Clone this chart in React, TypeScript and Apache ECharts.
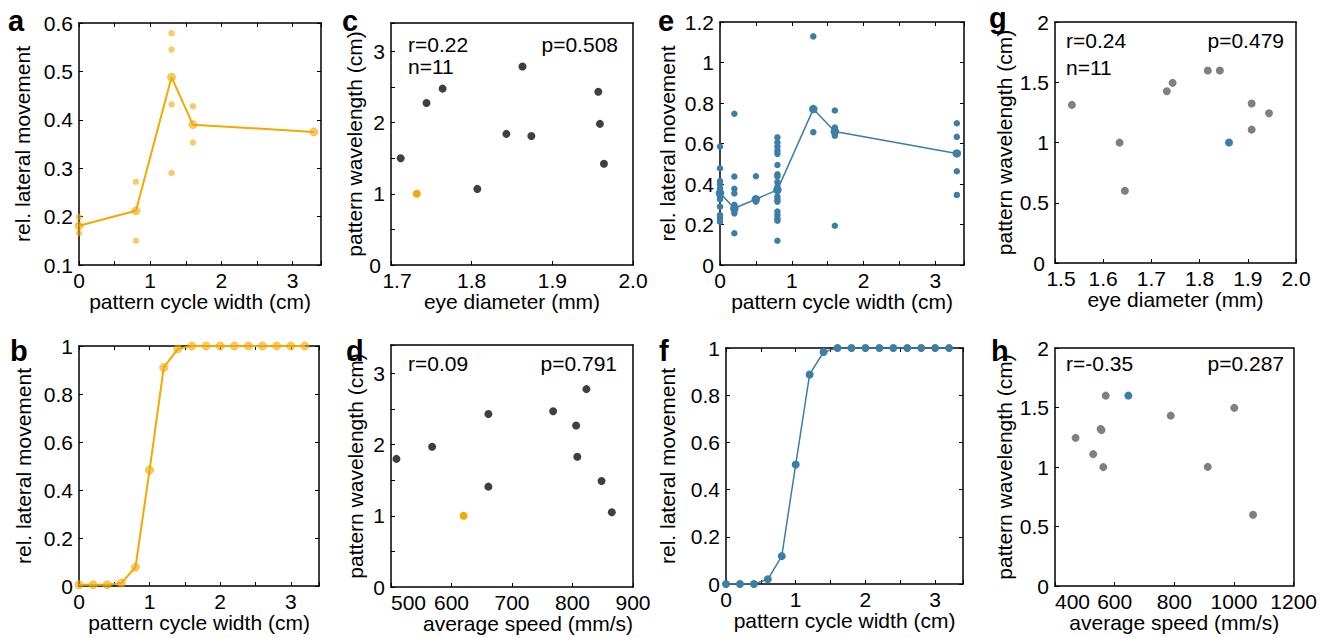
import React, { useEffect, useRef } from "react";
import * as echarts from "echarts";

// ---------- data ----------
// panel a (orange, individual + mean)
const aWidths = [0, 0.8, 1.3, 1.6, 3.3];
const aMeans = [0.181, 0.212, 0.488, 0.39, 0.375];
const aIndividual = [
  [0.199, 0.166],
  [0.272, 0.15],
  [0.579, 0.545, 0.432, 0.29],
  [0.428, 0.353],
  [],
];
// panel b
const bWidths = [0, 0.2, 0.4, 0.6, 0.8, 1.0, 1.2, 1.4, 1.6, 1.8, 2.0, 2.2, 2.4, 2.6, 2.8, 3.0, 3.2];
const bValues = [0.005, 0.005, 0.005, 0.012, 0.078, 0.483, 0.91, 0.988, 1, 1, 1, 1, 1, 1, 1, 1, 1];
// panel c
const cEyeDiameter = [1.712, 1.732, 1.744, 1.764, 1.807, 1.843, 1.863, 1.874, 1.957, 1.959, 1.964];
const cWavelength = [1.5, 1.0, 2.275, 2.478, 1.069, 1.842, 2.789, 1.813, 2.435, 1.983, 1.422];
const cHighlight = 1;
// panel d
const dSpeed = [509, 568, 620, 661, 661, 768, 806, 808, 823, 848, 865];
const dWavelength = [1.8, 1.97, 1.0, 2.43, 1.41, 2.47, 2.27, 1.83, 2.78, 1.49, 1.05];
const dHighlight = 2;
// panel e (blue, individual + mean)
const eWidths = [0, 0.2, 0.5, 0.8, 1.3, 1.6, 3.3];
const eMeans = [0.355, 0.28, 0.325, 0.371, 0.77, 0.659, 0.551];
const eIndividual = [
  [0.585, 0.478, 0.415, 0.399, 0.379, 0.363, 0.349, 0.338, 0.325, 0.288, 0.247, 0.231, 0.214],
  [0.747, 0.437, 0.376, 0.354, 0.297, 0.28, 0.269, 0.255, 0.157],
  [0.438, 0.326, 0.313],
  [0.63, 0.605, 0.585, 0.565, 0.549, 0.494, 0.448, 0.437, 0.41, 0.387, 0.366, 0.338, 0.325, 0.313, 0.264, 0.247, 0.231, 0.219, 0.12],
  [1.129, 0.77, 0.656],
  [0.763, 0.679, 0.668, 0.651, 0.638, 0.194],
  [0.7, 0.633, 0.551, 0.463, 0.346],
];
// panel f
const fWidths = [0, 0.2, 0.4, 0.6, 0.8, 1.0, 1.2, 1.4, 1.6, 1.8, 2.0, 2.2, 2.4, 2.6, 2.8, 3.0, 3.2];
const fValues = [0, 0, 0, 0.02, 0.118, 0.506, 0.888, 0.983, 1, 1, 1, 1, 1, 1, 1, 1, 1];
// panel g
const gEyeDiameter = [1.535, 1.634, 1.645, 1.732, 1.744, 1.817, 1.842, 1.861, 1.908, 1.908, 1.944];
const gWavelength = [1.312, 0.999, 0.599, 1.426, 1.495, 1.598, 1.598, 1.0, 1.323, 1.107, 1.243];
const gHighlight = 7;
// panel h
const hSpeed = [469, 528, 553, 556, 562, 570, 646, 788, 912, 1001, 1064];
const hWavelength = [1.245, 1.108, 1.32, 1.31, 0.999, 1.6, 1.6, 1.432, 1.001, 1.497, 0.599];
const hHighlight = 6;

// stats text
const cStats = { r: "r=0.22", n: "n=11", p: "p=0.508" };
const dStats = { r: "r=0.09", p: "p=0.791" };
const gStats = { r: "r=0.24", n: "n=11", p: "p=0.479" };
const hStats = { r: "r=-0.35", p: "p=0.287" };

// ---------- styles ----------
const FONT = "Liberation Sans, Arial, Helvetica, sans-serif";
const ORANGE = "#f2a900";
const ORANGE_T = "rgba(242,169,0,0.6)";
const BLUE = "#3c7ea5";
const DARK = "#3f3f3f";
const GREY = "#808080";
const FS = 21;

const grids = [
  { left: 79, top: 23, width: 242, height: 242 }, // a
  { left: 79, top: 346, width: 240, height: 240 }, // b
  { left: 391, top: 23, width: 242, height: 242 }, // c
  { left: 391, top: 345, width: 242, height: 242 }, // d
  { left: 720, top: 22, width: 244, height: 243 }, // e
  { left: 726, top: 348, width: 237, height: 236 }, // f
  { left: 1055, top: 22, width: 241, height: 241 }, // g
  { left: 1055, top: 348, width: 240, height: 238 }, // h
];

const intOnly = (v: number) => (Math.abs(v - Math.round(v)) < 1e-6 ? String(Math.round(v)) : "");
const oneDec = (v: number) => v.toFixed(1);
const trimmed = (v: number) => String(+v.toFixed(2));

type AxCfg = {
  xMin: number; xMax: number; xInt: number; xFmt: (v: number) => string;
  yMin: number; yMax: number; yInt: number; yFmt: (v: number) => string;
  xName: string; yName: string; xGap: number; yGap: number; mirror: boolean;
  alignMin?: boolean; xNamePad?: number[]; nudgeMins?: boolean;
};

const panelAxes: AxCfg[] = [
  { xMin: 0, xMax: 3.4, xInt: 0.5, xFmt: intOnly, yMin: 0.1, yMax: 0.6, yInt: 0.1, yFmt: oneDec, xName: "pattern cycle width (cm)", yName: "rel. lateral movement", xGap: 22, yGap: 46, mirror: true },
  { xMin: 0, xMax: 3.4, xInt: 0.5, xFmt: intOnly, yMin: 0, yMax: 1, yInt: 0.2, yFmt: trimmed, xName: "pattern cycle width (cm)", yName: "rel. lateral movement", xGap: 26, yGap: 45, mirror: true },
  { xMin: 1.7, xMax: 2.0, xInt: 0.1, xFmt: oneDec, yMin: 0, yMax: 3.4, yInt: 0.5, yFmt: intOnly, xName: "eye diameter (mm)", yName: "pattern wavelength (cm)", xGap: 22, yGap: 25, mirror: false, nudgeMins: true },
  { xMin: 500, xMax: 900, xInt: 100, xFmt: trimmed, yMin: 0, yMax: 3.4, yInt: 0.5, yFmt: intOnly, xName: "average speed (mm/s)", yName: "pattern wavelength (cm)", xGap: 26, yGap: 25, mirror: false, alignMin: true, xNamePad: [0, 0, 0, 32] },
  { xMin: 0, xMax: 3.4, xInt: 0.5, xFmt: intOnly, yMin: 0, yMax: 1.2, yInt: 0.2, yFmt: trimmed, xName: "pattern cycle width (cm)", yName: "rel. lateral movement", xGap: 22, yGap: 42, mirror: true },
  { xMin: 0, xMax: 3.4, xInt: 0.5, xFmt: intOnly, yMin: 0, yMax: 1, yInt: 0.2, yFmt: trimmed, xName: "pattern cycle width (cm)", yName: "rel. lateral movement", xGap: 26, yGap: 48, mirror: true },
  { xMin: 1.5, xMax: 2.0, xInt: 0.1, xFmt: oneDec, yMin: 0, yMax: 2, yInt: 0.5, yFmt: trimmed, xName: "eye diameter (mm)", yName: "pattern wavelength (cm)", xGap: 22, yGap: 40, mirror: false, nudgeMins: true },
  { xMin: 400, xMax: 1200, xInt: 200, xFmt: trimmed, yMin: 0, yMax: 2, yInt: 0.5, yFmt: trimmed, xName: "average speed (mm/s)", yName: "pattern wavelength (cm)", xGap: 26, yGap: 40, mirror: false, alignMin: true },
];

function buildAxes() {
  const xAxis: any[] = [];
  const yAxis: any[] = [];
  const line = { show: true, onZero: false, lineStyle: { color: "#000", width: 1.5 } };
  const tick = (show: boolean) => ({ show, inside: true, length: 4, lineStyle: { color: "#000", width: 1 } });
  const richBase = { color: "#000", fontSize: FS, fontFamily: FONT, lineHeight: 16 };
  const label = (fmt: (v: number) => string, margin: number, extra: any = {}) => ({
    show: true, color: "#000", fontSize: FS, fontFamily: FONT, lineHeight: 16, margin, formatter: fmt,
    rich: {
      sx: { ...richBase, padding: [0, 0, 0, 12] },
      sy: { ...richBase, padding: [0, 4, 0, 0] },
    },
    ...extra,
  });
  const nameStyle = (pad?: number[]) => ({ color: "#000", fontSize: FS, fontFamily: FONT, padding: pad || 0 });
  panelAxes.forEach((c, i) => {
    const xf = c.nudgeMins
      ? (v: number) => (Math.abs(v - c.xMin) < 1e-9 ? `{sx|${c.xFmt(v)}}` : c.xFmt(v))
      : c.xFmt;
    const yf = c.nudgeMins
      ? (v: number) => (Math.abs(v - c.yMin) < 1e-9 ? `{sy|${c.yFmt(v)}}` : c.yFmt(v))
      : c.yFmt;
    xAxis.push({
      type: "value", gridIndex: i, position: "bottom", min: c.xMin, max: c.xMax, interval: c.xInt,
      axisLine: line, axisTick: tick(true), splitLine: { show: false },
      axisLabel: label(xf, 7, c.alignMin ? { alignMinLabel: "left" } : {}),
      name: c.xName, nameLocation: "middle", nameGap: c.xGap, nameTextStyle: nameStyle(c.xNamePad),
    });
    xAxis.push({
      type: "value", gridIndex: i, position: "top", min: c.xMin, max: c.xMax, interval: c.xInt,
      axisLine: line, axisTick: tick(c.mirror), splitLine: { show: false }, axisLabel: { show: false },
    });
    yAxis.push({
      type: "value", gridIndex: i, position: "left", min: c.yMin, max: c.yMax, interval: c.yInt,
      axisLine: line, axisTick: tick(true), splitLine: { show: false },
      axisLabel: label(yf, 6),
      name: c.yName, nameLocation: "middle", nameGap: c.yGap, nameTextStyle: nameStyle(),
    });
    yAxis.push({
      type: "value", gridIndex: i, position: "right", min: c.yMin, max: c.yMax, interval: c.yInt,
      axisLine: line, axisTick: tick(c.mirror), splitLine: { show: false }, axisLabel: { show: false },
    });
  });
  return { xAxis, yAxis };
}

const pairs = (xs: number[], ys: number[]) => xs.map((x, i) => [x, ys[i]]);
const groupPoints = (xs: number[], groups: number[][]) =>
  xs.flatMap((x, i) => groups[i].map((y) => [x, y]));

function scatterPanel(i: number, xs: number[], ys: number[], hi: number, base: string, hiColor: string) {
  const normal = xs.map((x, k) => [x, ys[k]]).filter((_, k) => k !== hi);
  return [
    { type: "scatter", xAxisIndex: 2 * i, yAxisIndex: 2 * i, data: normal, symbolSize: 8, itemStyle: { color: base, opacity: 1 }, silent: true },
    { type: "scatter", xAxisIndex: 2 * i, yAxisIndex: 2 * i, data: [[xs[hi], ys[hi]]], symbolSize: 8, itemStyle: { color: hiColor, opacity: 1 }, silent: true },
  ];
}

function buildSeries() {
  const s: any[] = [];
  // a
  s.push({ type: "scatter", xAxisIndex: 0, yAxisIndex: 0, data: groupPoints(aWidths, aIndividual), symbolSize: 6.5, itemStyle: { color: ORANGE, opacity: 0.6 } });
  s.push({ type: "line", xAxisIndex: 0, yAxisIndex: 0, data: pairs(aWidths, aMeans), symbol: "circle", symbolSize: 8, showSymbol: true,
    lineStyle: { color: ORANGE, width: 2 }, itemStyle: { color: ORANGE_T, borderColor: ORANGE_T, borderWidth: 1 } });
  // b
  s.push({ type: "line", xAxisIndex: 2, yAxisIndex: 2, data: pairs(bWidths, bValues), symbol: "circle", symbolSize: 8, showSymbol: true,
    lineStyle: { color: ORANGE, width: 2 }, itemStyle: { color: ORANGE_T, borderColor: ORANGE_T, borderWidth: 1 } });
  // c, d
  s.push(...scatterPanel(2, cEyeDiameter, cWavelength, cHighlight, DARK, ORANGE));
  s.push(...scatterPanel(3, dSpeed, dWavelength, dHighlight, DARK, ORANGE));
  // e
  s.push({ type: "scatter", xAxisIndex: 8, yAxisIndex: 8, data: groupPoints(eWidths, eIndividual), symbolSize: 6.5, itemStyle: { color: BLUE, opacity: 1 } });
  s.push({ type: "line", xAxisIndex: 8, yAxisIndex: 8, data: pairs(eWidths, eMeans), symbol: "circle", symbolSize: 8.5, showSymbol: true,
    lineStyle: { color: BLUE, width: 1.5 }, itemStyle: { color: BLUE } });
  // f
  s.push({ type: "line", xAxisIndex: 10, yAxisIndex: 10, data: pairs(fWidths, fValues), symbol: "circle", symbolSize: 8, showSymbol: true,
    lineStyle: { color: BLUE, width: 1.5 }, itemStyle: { color: BLUE } });
  // g, h
  s.push(...scatterPanel(6, gEyeDiameter, gWavelength, gHighlight, GREY, BLUE));
  s.push(...scatterPanel(7, hSpeed, hWavelength, hHighlight, GREY, BLUE));
  return s;
}

function txt(text: string, x: number, y: number, align: string = "left", extra: any = {}) {
  return {
    type: "text", x, y, silent: true,
    style: { text, fill: "#000", font: `${FS}px ${FONT}`, textAlign: align, textVerticalAlign: "middle", ...extra },
  };
}
function letter(text: string, x: number, y: number) {
  return {
    type: "text", x, y, silent: true,
    style: { text, fill: "#000", font: `bold 29px ${FONT}`, textAlign: "left", textVerticalAlign: "bottom" },
  };
}

function buildGraphic() {
  return [
    letter("a", 8, 35), letter("b", 10, 365), letter("c", 342, 35), letter("d", 346, 365),
    letter("e", 658, 35), letter("f", 659, 365), letter("g", 989, 32), letter("h", 991, 365),
    txt(cStats.r, 408, 44), txt(cStats.n, 408, 66), txt(cStats.p, 618, 44, "right"),
    txt(dStats.r, 408, 363), txt(dStats.p, 617, 363, "right"),
    txt(gStats.r, 1066, 40), txt(gStats.n, 1066, 67), txt(gStats.p, 1284, 40, "right"),
    txt(hStats.r, 1066, 363), txt(hStats.p, 1284, 363, "right"),
  ];
}

export default function App() {
  const ref = useRef<HTMLDivElement>(null);
  useEffect(() => {
    if (!ref.current) return;
    const chart = echarts.init(ref.current, undefined, { renderer: "svg" });
    const { xAxis, yAxis } = buildAxes();
    chart.setOption({
      animation: false,
      backgroundColor: "#fff",
      textStyle: { fontFamily: FONT },
      grid: grids.map((g) => ({ ...g, containLabel: false })),
      xAxis,
      yAxis,
      series: buildSeries(),
      graphic: buildGraphic(),
    });
    return () => chart.dispose();
  }, []);
  return (
    <div
      ref={ref}
      style={{ position: "fixed", left: 0, top: 0, width: 1320, height: 638, background: "#fff" }}
    />
  );
}
